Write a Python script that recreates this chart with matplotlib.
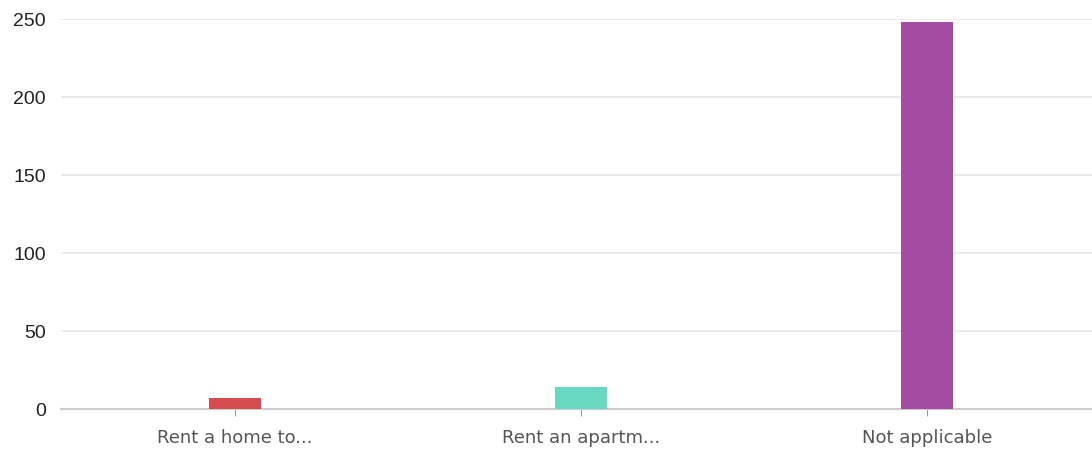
import matplotlib.pyplot as plt

categories = ['Rent a home to...', 'Rent an apartm...', 'Not applicable']
counts = [7, 14, 248]
colors = ['#d64b4b', '#68d8c0', '#a44ba2']
yticks = [0, 50, 100, 150, 200, 250]

fig = plt.figure(figsize=(10.92, 4.56), dpi=100)
ax = fig.add_axes([61 / 1092, 1 - 410 / 456, 1 - 61 / 1092, 390 / 456])

x = list(range(len(categories)))
ax.bar(x, counts, width=0.15, color=colors, zorder=3)

ax.set_xlim(-0.503, 2.477)
ax.set_ylim(0, 250)
ax.set_yticks(yticks)
ax.set_xticks(x)
ax.set_xticklabels(categories, color='#555555', fontsize=13)
ax.tick_params(axis='y', length=0, pad=11, labelcolor='#222222')
for lbl in ax.get_yticklabels():
    lbl.set_fontfamily('Liberation Sans')
    lbl.set_fontsize(14)
ax.tick_params(axis='x', length=5, color='#999999', pad=9)
ax.grid(axis='y', color='#e6e6e6', linewidth=1.2, zorder=0)
for s in ['top', 'right', 'left']:
    ax.spines[s].set_visible(False)
ax.spines['bottom'].set_color('#cccccc')
ax.spines['bottom'].set_linewidth(1.5)

fig.savefig('out.png', dpi=100)
